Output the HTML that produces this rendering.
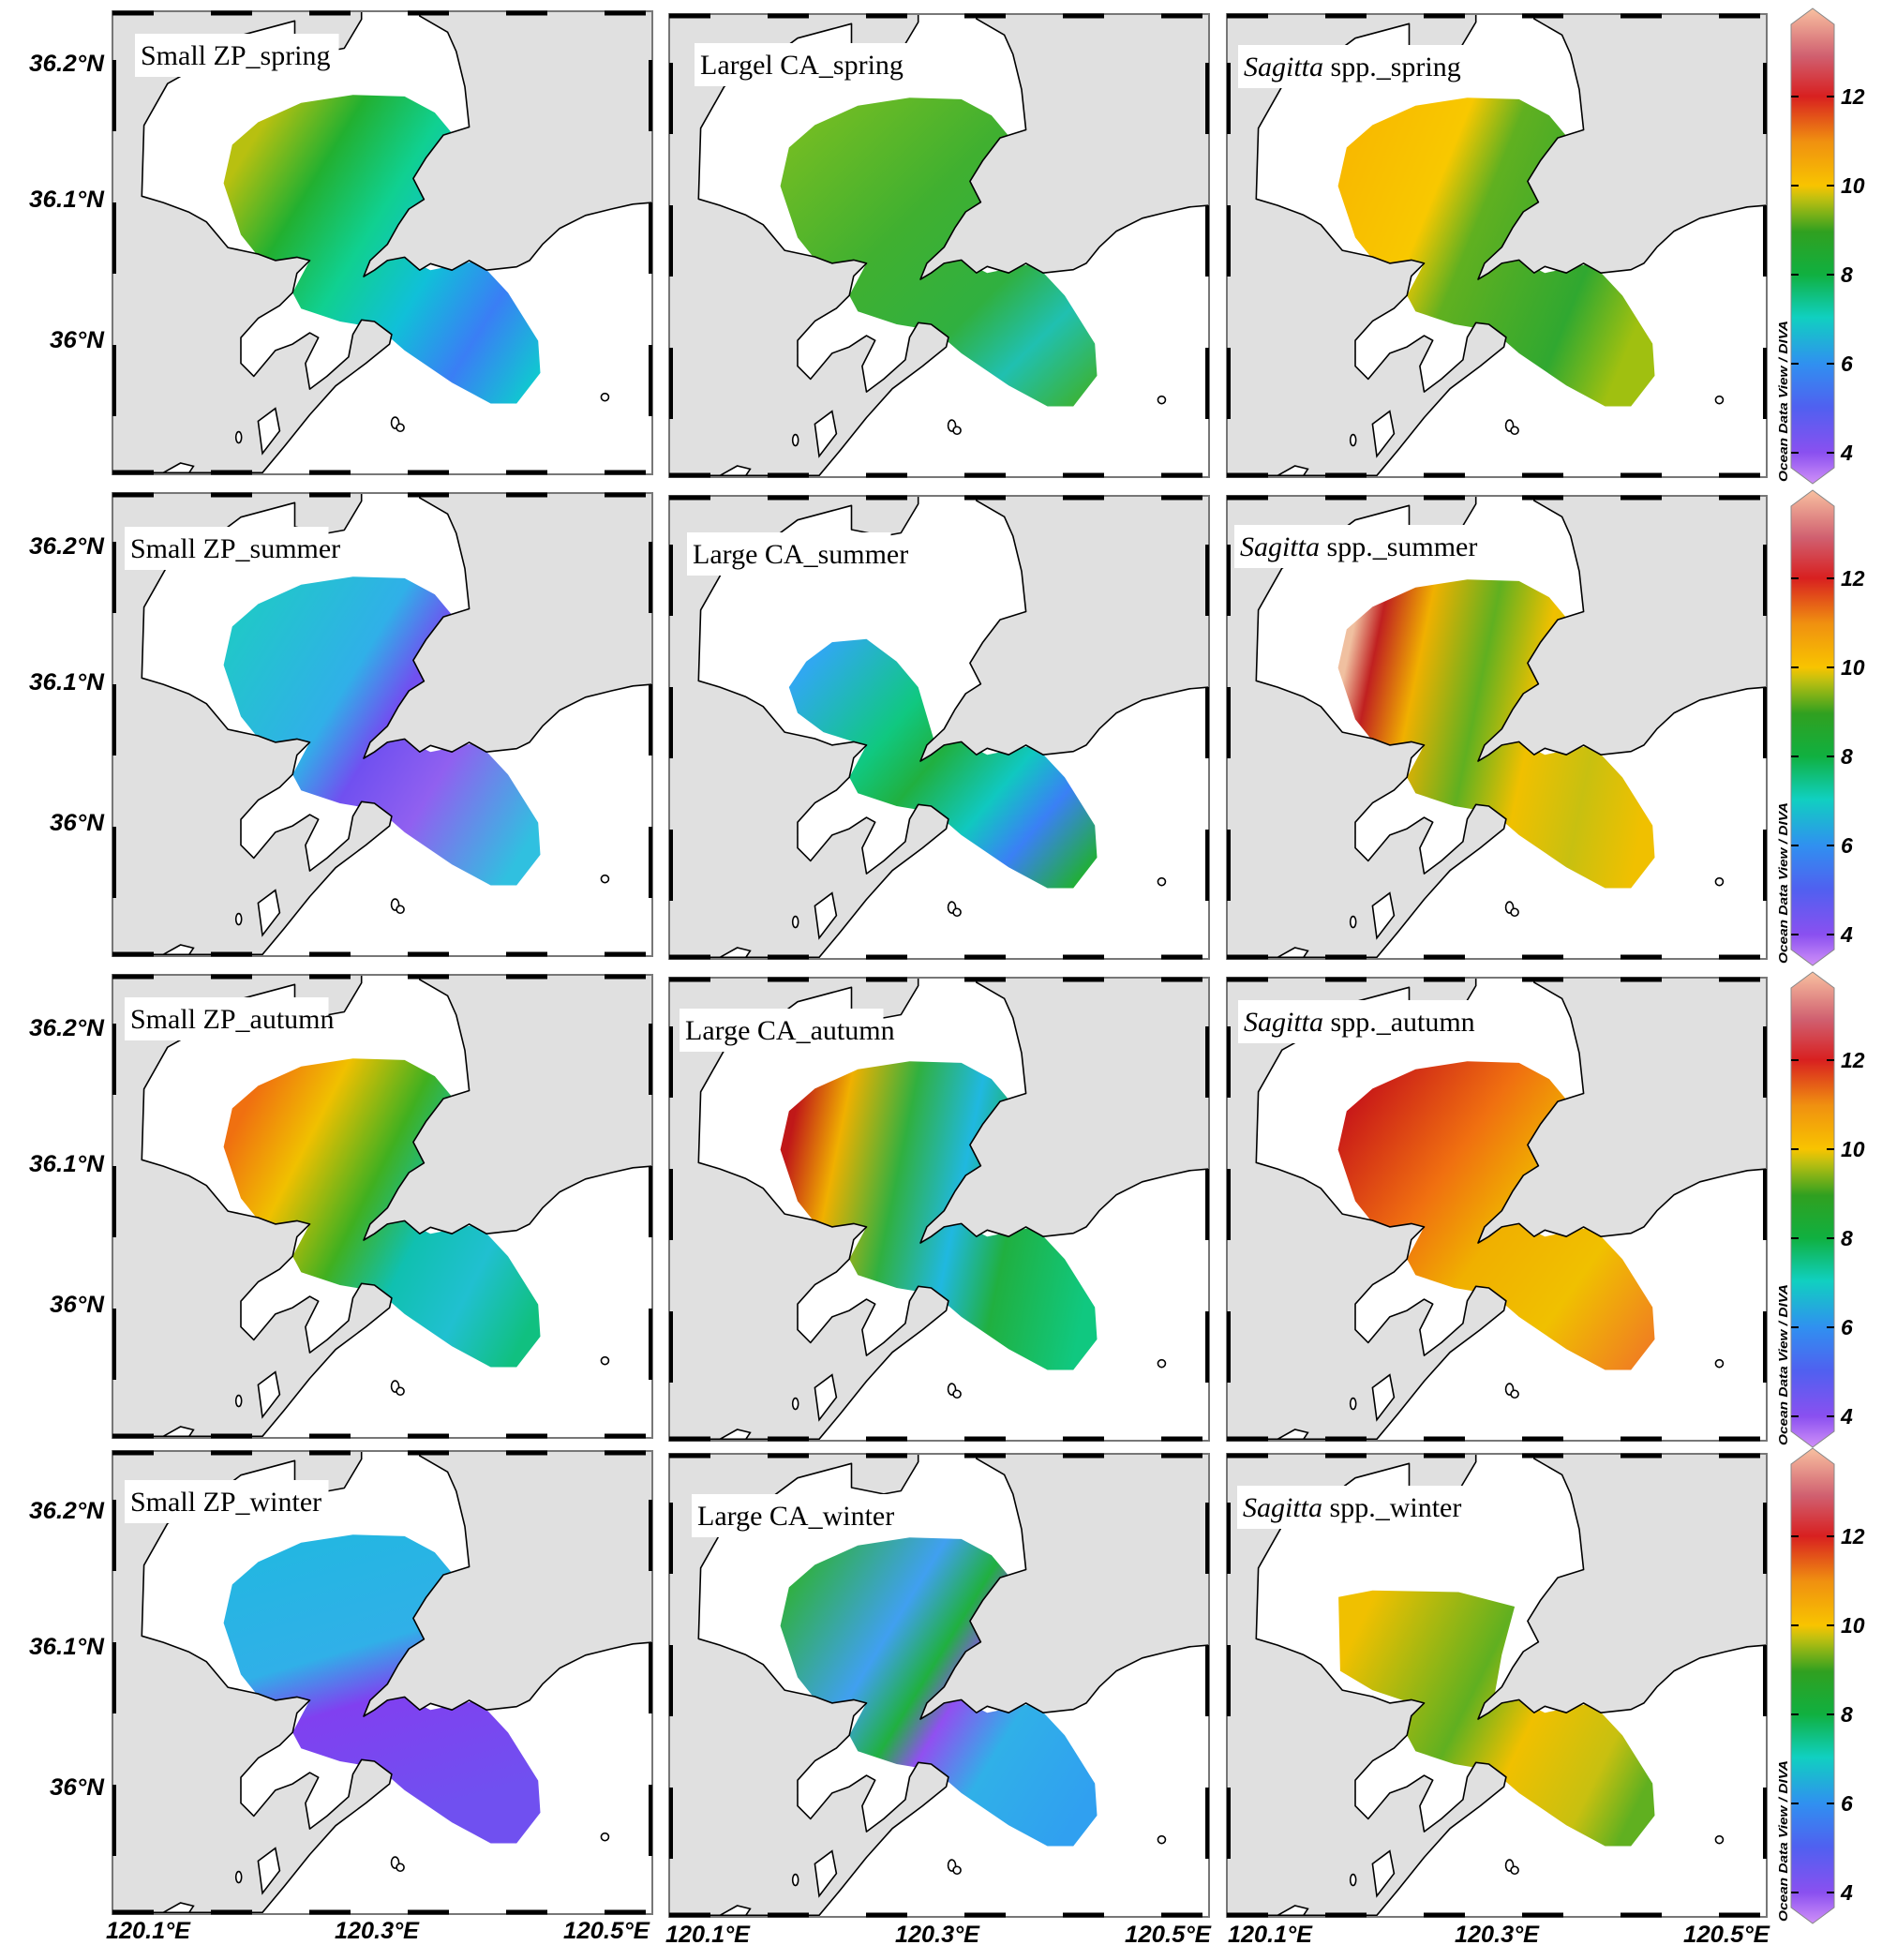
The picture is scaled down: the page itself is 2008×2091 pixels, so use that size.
<!DOCTYPE html>
<html><head><meta charset="utf-8"><style>
html,body{margin:0;padding:0;background:#fff}
svg{display:block}
.lab{font-family:"Liberation Serif",serif;font-size:30px;fill:#000}
.ax{font-family:"Liberation Sans",sans-serif;font-weight:bold;font-style:italic;font-size:25px;fill:#000}
.cb{font-family:"Liberation Sans",sans-serif;font-weight:bold;font-style:italic;font-size:23px;fill:#000}
.odv{font-family:"Liberation Sans",sans-serif;font-weight:bold;font-style:italic;font-size:13px;fill:#000}
</style></head><body>
<svg width="2008" height="2091" viewBox="0 0 2008 2091" xmlns="http://www.w3.org/2000/svg">
<defs>
<linearGradient id="cbg" x1="0" y1="1" x2="0" y2="0">
<stop offset="0" stop-color="#d090f8"/><stop offset="0.065" stop-color="#8a50f0"/><stop offset="0.16" stop-color="#5060f0"/><stop offset="0.252" stop-color="#3090f0"/><stop offset="0.35" stop-color="#10d0c0"/><stop offset="0.44" stop-color="#10b040"/><stop offset="0.53" stop-color="#30a020"/><stop offset="0.6" stop-color="#c0c010"/><stop offset="0.627" stop-color="#f8c400"/><stop offset="0.72" stop-color="#f09010"/><stop offset="0.815" stop-color="#d82020"/><stop offset="0.9" stop-color="#d06070"/><stop offset="1" stop-color="#f8c0a0"/>
</linearGradient>
<linearGradient id="g11" x1="0" y1="0.3" x2="1" y2="0.9"><stop offset="0" stop-color="#b8c010"/><stop offset="0.2" stop-color="#22b030"/><stop offset="0.4" stop-color="#10d090"/><stop offset="0.6" stop-color="#10c0d8"/><stop offset="0.8" stop-color="#3a7ef5"/><stop offset="1" stop-color="#10c8d0"/></linearGradient>
<linearGradient id="g12" x1="0" y1="0" x2="1" y2="1"><stop offset="0" stop-color="#80c020"/><stop offset="0.4" stop-color="#40b030"/><stop offset="0.65" stop-color="#30b040"/><stop offset="0.8" stop-color="#20c0b0"/><stop offset="1" stop-color="#40b020"/></linearGradient>
<linearGradient id="g13" x1="0" y1="0.2" x2="1" y2="0.6"><stop offset="0" stop-color="#f8b800"/><stop offset="0.3" stop-color="#f8c800"/><stop offset="0.45" stop-color="#60b020"/><stop offset="0.8" stop-color="#30a830"/><stop offset="1" stop-color="#a0c010"/></linearGradient>
<linearGradient id="g21" x1="0" y1="0.2" x2="1" y2="0.8"><stop offset="0" stop-color="#20c8c8"/><stop offset="0.35" stop-color="#30b0e8"/><stop offset="0.5" stop-color="#7050f0"/><stop offset="0.7" stop-color="#9060f0"/><stop offset="1" stop-color="#30c0e0"/></linearGradient>
<linearGradient id="g22" x1="0" y1="0.2" x2="1" y2="0.9"><stop offset="0" stop-color="#30a8f0"/><stop offset="0.3" stop-color="#10c880"/><stop offset="0.45" stop-color="#20b040"/><stop offset="0.65" stop-color="#10c8c0"/><stop offset="0.8" stop-color="#3a80f5"/><stop offset="1" stop-color="#20b030"/></linearGradient>
<linearGradient id="g23" x1="0" y1="0.4" x2="1" y2="0.6"><stop offset="0" stop-color="#f0c0a0"/><stop offset="0.08" stop-color="#c02020"/><stop offset="0.22" stop-color="#f0b000"/><stop offset="0.42" stop-color="#60b020"/><stop offset="0.6" stop-color="#f0c000"/><stop offset="0.8" stop-color="#c8c010"/><stop offset="1" stop-color="#f0c000"/></linearGradient>
<linearGradient id="g31" x1="0" y1="0.3" x2="1" y2="0.8"><stop offset="0" stop-color="#f07010"/><stop offset="0.2" stop-color="#f0c000"/><stop offset="0.42" stop-color="#40b020"/><stop offset="0.6" stop-color="#10c0b0"/><stop offset="0.8" stop-color="#20c0d0"/><stop offset="1" stop-color="#10c080"/></linearGradient>
<linearGradient id="g32" x1="0" y1="0.4" x2="1" y2="0.6"><stop offset="0" stop-color="#c01818"/><stop offset="0.15" stop-color="#f0b000"/><stop offset="0.35" stop-color="#30b040"/><stop offset="0.55" stop-color="#20b8e0"/><stop offset="0.72" stop-color="#20b040"/><stop offset="1" stop-color="#10c880"/></linearGradient>
<linearGradient id="g33" x1="0" y1="0.2" x2="1" y2="0.9"><stop offset="0" stop-color="#c81818"/><stop offset="0.3" stop-color="#f07010"/><stop offset="0.5" stop-color="#f0b000"/><stop offset="0.75" stop-color="#f0c000"/><stop offset="1" stop-color="#f08020"/></linearGradient>
<linearGradient id="g41" x1="0" y1="0" x2="0.3" y2="1"><stop offset="0" stop-color="#20b8e0"/><stop offset="0.45" stop-color="#30b0e8"/><stop offset="0.62" stop-color="#8040f0"/><stop offset="1" stop-color="#7050f0"/></linearGradient>
<linearGradient id="g42" x1="0" y1="0.2" x2="1" y2="0.8"><stop offset="0" stop-color="#30b040"/><stop offset="0.3" stop-color="#40a0f0"/><stop offset="0.45" stop-color="#20b040"/><stop offset="0.55" stop-color="#9050f0"/><stop offset="0.72" stop-color="#30b0e8"/><stop offset="1" stop-color="#30a0f0"/></linearGradient>
<linearGradient id="g43" x1="0" y1="0.3" x2="1" y2="0.7"><stop offset="0" stop-color="#f0c000"/><stop offset="0.4" stop-color="#60b020"/><stop offset="0.6" stop-color="#f0c000"/><stop offset="0.85" stop-color="#c8c010"/><stop offset="1" stop-color="#60b020"/></linearGradient>
</defs>

<g id="panels"></g>

<g class="ax" text-anchor="end">
<text x="111" y="76" textLength="80" lengthAdjust="spacingAndGlyphs">36.2°N</text>
<text x="111" y="221" textLength="80" lengthAdjust="spacingAndGlyphs">36.1°N</text>
<text x="111" y="371" textLength="58" lengthAdjust="spacingAndGlyphs">36°N</text>
<text x="111" y="591" textLength="80" lengthAdjust="spacingAndGlyphs">36.2°N</text>
<text x="111" y="736" textLength="80" lengthAdjust="spacingAndGlyphs">36.1°N</text>
<text x="111" y="886" textLength="58" lengthAdjust="spacingAndGlyphs">36°N</text>
<text x="111" y="1105" textLength="80" lengthAdjust="spacingAndGlyphs">36.2°N</text>
<text x="111" y="1250" textLength="80" lengthAdjust="spacingAndGlyphs">36.1°N</text>
<text x="111" y="1400" textLength="58" lengthAdjust="spacingAndGlyphs">36°N</text>
<text x="111" y="1620" textLength="80" lengthAdjust="spacingAndGlyphs">36.2°N</text>
<text x="111" y="1765" textLength="80" lengthAdjust="spacingAndGlyphs">36.1°N</text>
<text x="111" y="1915" textLength="58" lengthAdjust="spacingAndGlyphs">36°N</text>
</g>
<g class="ax">
<text x="113" y="2068" textLength="90" lengthAdjust="spacingAndGlyphs">120.1°E</text>
<text x="357" y="2068" textLength="90" lengthAdjust="spacingAndGlyphs">120.3°E</text>
<text x="601" y="2068" textLength="92" lengthAdjust="spacingAndGlyphs">120.5°E</text>
<text x="710" y="2072" textLength="90" lengthAdjust="spacingAndGlyphs">120.1°E</text>
<text x="955" y="2072" textLength="90" lengthAdjust="spacingAndGlyphs">120.3°E</text>
<text x="1200" y="2072" textLength="92" lengthAdjust="spacingAndGlyphs">120.5°E</text>
<text x="1310" y="2072" textLength="90" lengthAdjust="spacingAndGlyphs">120.1°E</text>
<text x="1552" y="2072" textLength="90" lengthAdjust="spacingAndGlyphs">120.3°E</text>
<text x="1796" y="2072" textLength="92" lengthAdjust="spacingAndGlyphs">120.5°E</text>
</g>
</svg>
<script>
(function(){
var NS="http://www.w3.org/2000/svg";
var root=document.getElementById("panels");
function el(tag,attrs,parent){var e=document.createElementNS(NS,tag);for(var k in attrs)e.setAttribute(k,attrs[k]);(parent||root).appendChild(e);return e;}
var land1=[[262,25],[840,25],[840,50],[800,140],[760,150],[685,130],[685,55],[560,100],[470,190],[390,250],[335,380],[330,600],[380,620],[440,650],[480,680],[530,760],[600,780],[640,800],[690,790],[720,800],[690,840],[680,900],[650,940],[600,980],[560,1040],[560,1120],[590,1160],[640,1080],[680,1060],[720,1025],[740,1040],[710,1120],[720,1200],[760,1160],[810,1100],[820,1030],[840,985],[870,990],[910,1030],[905,1060],[850,1120],[780,1190],[720,1280],[660,1380],[610,1460],[262,1460]];
var land2=[[975,25],[1515,25],[1515,620],[1470,625],[1420,640],[1360,660],[1300,700],[1260,750],[1230,800],[1200,820],[1130,830],[1090,800],[1050,830],[1000,810],[975,830],[940,790],[900,800],[870,830],[845,850],[860,800],[900,750],[925,690],[950,640],[985,610],[960,545],[990,480],[1030,410],[1090,385],[1080,260],[1060,150],[1040,90],[975,40]];
var lakes=[[[600,1300],[640,1260],[650,1330],[610,1400]],[[380,1460],[420,1430],[450,1440],[440,1460]]];
var blob=[[520,560],[540,440],[600,370],[700,310],[820,285],[940,290],[1010,340],[1060,420],[1000,600],[940,720],[880,800],[940,790],[1000,830],[1110,800],[1180,900],[1250,1050],[1255,1150],[1200,1245],[1140,1245],[1050,1180],[940,1080],[880,1010],[790,990],[700,950],[680,900],[720,800],[690,790],[620,820],[560,720]];
var blobS=[[540,620],[580,540],[640,480],[720,470],[790,540],[840,620],[880,800],[940,790],[1000,830],[1110,800],[1180,900],[1250,1050],[1255,1150],[1200,1245],[1140,1245],[1050,1180],[940,1080],[880,1010],[790,990],[700,950],[680,900],[720,800],[690,790],[620,760],[560,700]];
var blobW=[[521,470],[600,450],[800,455],[930,500],[900,650],[880,800],[940,790],[1000,830],[1110,800],[1180,900],[1250,1050],[1255,1150],[1200,1245],[1140,1245],[1050,1180],[940,1080],[880,1010],[790,990],[700,950],[680,900],[690,800],[600,760],[525,700]];
var cols=[120,714,1309], rows=[12,526,1040,1548], W=576,H=494;
function pts(arr,x,y){var sx=W/1253,sy=H/1440;return arr.map(function(p){return (x+(p[0]-262)*sx).toFixed(1)+","+(y+(p[1]-25)*sy).toFixed(1);}).join(" ");}
function mp(px,py,x,y){return [x+(px-262)*W/1253,y+(py-25)*H/1440];}
var labels=[
[["","Small ZP_spring",24,47],["","Largel CA_spring",27,54],["Sagitta"," spp._spring",12,56]],
[["","Small ZP_summer",13,59],["","Large CA_summer",19,62],["Sagitta"," spp._summer",8,54]],
[["","Small ZP_autumn",13,47],["","Large CA_autumn",11,56],["Sagitta"," spp._autumn",12,47]],
[["","Small ZP_winter",13,54],["","Large CA_winter",24,66],["Sagitta"," spp._winter",11,57]]];
var blobs=[[blob,blob,blob],[blob,blobS,blob],[blob,blob,blob],[blob,blob,blobW]];
for(var r=0;r<4;r++){for(var c=0;c<3;c++){
 var x=cols[c],y=rows[r]+(c>0?3:0);
 el("rect",{x:x,y:y,width:W,height:H,fill:"#fff"});
 el("polygon",{points:pts(blobs[r][c],x,y),fill:"url(#g"+(r+1)+(c+1)+")"});
 el("polygon",{points:pts(land1,x,y),fill:"#e0e0e0",stroke:"#000","stroke-width":"1.6","stroke-linejoin":"round"});
 el("polygon",{points:pts(land2,x,y),fill:"#e0e0e0",stroke:"#000","stroke-width":"1.6","stroke-linejoin":"round"});
 for(var k=0;k<lakes.length;k++) el("polygon",{points:pts(lakes[k],x,y),fill:"#fff",stroke:"#000","stroke-width":"1.6"});
 var isl=[[1405,1225,4,4],[918,1305,4,6],[930,1320,4,4],[555,1350,3,6]];
 for(var k=0;k<isl.length;k++){var q=mp(isl[k][0],isl[k][1],x,y);el("ellipse",{cx:q[0],cy:q[1],rx:isl[k][2],ry:isl[k][3],fill:"#fff",stroke:"#000","stroke-width":"1.6"});}
 el("rect",{x:x,y:y,width:W,height:H,fill:"none",stroke:"#777","stroke-width":"2"});
 el("line",{x1:x,y1:y+2,x2:x+W,y2:y+2,stroke:"#000","stroke-width":"5","stroke-dasharray":"44 61"});
 el("line",{x1:x,y1:y+H-2,x2:x+W,y2:y+H-2,stroke:"#000","stroke-width":"5","stroke-dasharray":"44 61"});
 el("line",{x1:x+2,y1:y+52,x2:x+2,y2:y+H,stroke:"#000","stroke-width":"4","stroke-dasharray":"76 76"});
 el("line",{x1:x+W-2,y1:y+52,x2:x+W-2,y2:y+H,stroke:"#000","stroke-width":"4","stroke-dasharray":"76 76"});
 var L=labels[r][c];
 var tw=L[0]?255:(L[1].length*14.5);
 el("rect",{x:x+L[2],y:y+L[3]-23,width:tw,height:46,fill:"#fff"});
 var t=el("text",{x:x+L[2]+6,y:y+L[3]+10,"class":"lab"});
 if(L[0]){var a=el("tspan",{"font-style":"italic"},t);a.textContent=L[0];}
 var b=el("tspan",{},t);b.textContent=L[1];
}
 var cx0=1911,cx1=1957,cy=rows[r]-3,ch=507,tip=17,xm=(cx0+cx1)/2;
 el("polygon",{points:cx0+","+(cy+tip)+" "+xm+","+cy+" "+cx1+","+(cy+tip)+" "+cx1+","+(cy+ch-tip)+" "+xm+","+(cy+ch)+" "+cx0+","+(cy+ch-tip),fill:"url(#cbg)",stroke:"#888","stroke-width":"1"});
 var vals=[12,10,8,6,4];
 for(var i=0;i<5;i++){var ty=cy+94+i*95;
  el("line",{x1:cx0,y1:ty,x2:cx0+8,y2:ty,stroke:"#000","stroke-width":"2"});
  el("line",{x1:cx1-8,y1:ty,x2:cx1,y2:ty,stroke:"#000","stroke-width":"2"});
  var tt=el("text",{x:1964,y:ty+8,"class":"cb"});tt.textContent=vals[i];}
 var o=el("text",{x:0,y:0,"class":"odv",transform:"translate(1907,"+(cy+505)+") rotate(-90)",textLength:"172",lengthAdjust:"spacingAndGlyphs"});
 o.textContent="Ocean Data View / DIVA";
}
})();
</script>
</body></html>
